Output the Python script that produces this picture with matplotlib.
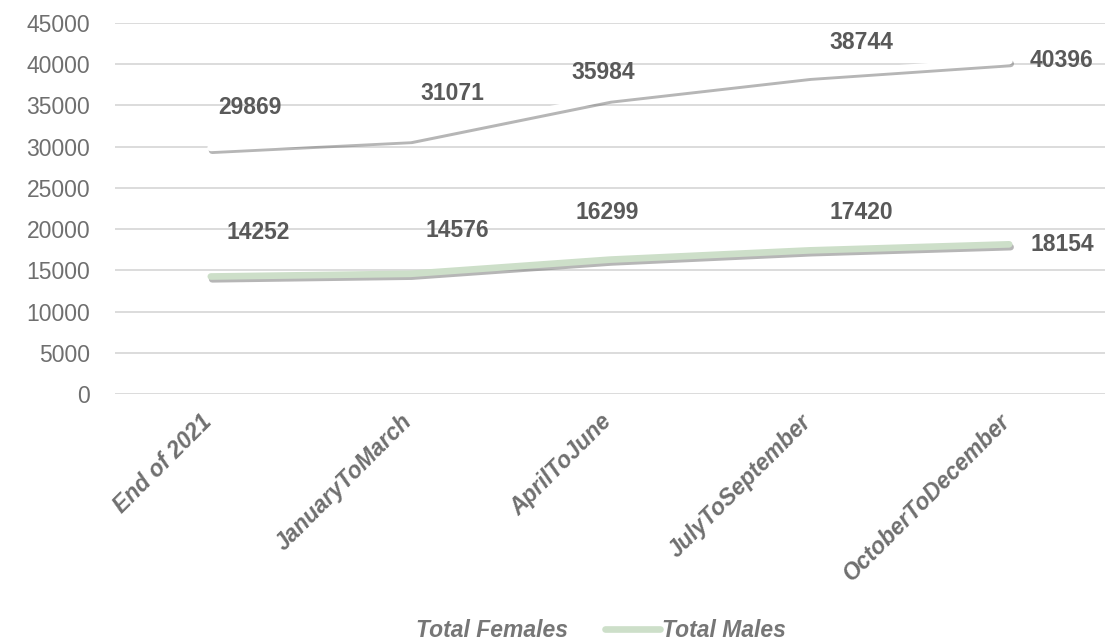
import matplotlib
matplotlib.use("Agg")
import matplotlib.pyplot as plt
import matplotlib.patheffects as pe
from matplotlib.transforms import ScaledTranslation

categories = ["End of 2021", "JanuaryToMarch", "AprilToJune", "JulyToSeptember", "OctoberToDecember"]
females = [29869, 31071, 35984, 38744, 40396]
males = [14252, 14576, 16299, 17420, 18154]
yticks = [0, 5000, 10000, 15000, 20000, 25000, 30000, 35000, 40000, 45000]

# label offsets in points (placed by hand in the original)
fem_off = [(28, 29), (30, 32), (-5, 18), (37, 23), (38, 0)]
male_off = [(34, 32), (34, 31), (-2, 34), (37, 27), (38, 0)]

plt.rcParams['font.family'] = ['Liberation Sans', 'DejaVu Sans']

fig = plt.figure(figsize=(11.18, 6.42), dpi=100)
ax = fig.add_axes([115/1118, 1-394/642, 990/1118, 371/642])

x = list(range(len(categories)))
shadow = [pe.SimpleLineShadow(offset=(1.0, -2.0), shadow_color='#7a7a7a', alpha=0.55), pe.Normal()]
ax.plot(x, females, color='white', lw=5, solid_capstyle='round', path_effects=shadow, label='Total Females', zorder=3)
ax.plot(x, males, color='#cddfc9', lw=4.8, solid_capstyle='round', path_effects=shadow, label='Total Males', zorder=3)

for i in x:
    ax.annotate(str(females[i]), (i, females[i]), xytext=fem_off[i], textcoords='offset points',
                ha='center', va='center', fontsize=16.5, fontweight='bold', color='#595959')
    ax.annotate(str(males[i]), (i, males[i]), xytext=male_off[i], textcoords='offset points',
                ha='center', va='center', fontsize=16.5, fontweight='bold', color='#595959')

ax.set_xlim(-0.48, 4.48)
ax.set_ylim(0, 45000)
ax.set_yticks(yticks)
ax.set_yticklabels([str(v) for v in yticks], fontsize=16.5, color='#6f6f6f')
ax.set_xticks(x)
ax.set_xticklabels([])
# category labels drawn as text so they can be nudged like the original
lab_tr = ax.get_xaxis_transform() + ScaledTranslation(6/100, -16/100, fig.dpi_scale_trans)
for i, cat in enumerate(categories):
    ax.text(i, 0, cat, transform=lab_tr, rotation=45, ha='right', va='top', fontsize=16.5,
            fontweight='bold', fontstyle='italic', color='#6f6f6f')
ax.tick_params(axis='y', length=0, pad=18)
ax.tick_params(axis='x', length=0)
ax.grid(axis='y', color='#d9d9d9', lw=1.3)
ax.set_axisbelow(True)
for s in ax.spines.values():
    s.set_visible(False)

leg = fig.legend(loc='center', bbox_to_anchor=(0.512, 0.018), ncol=2, frameon=False,
                 prop={'size': 16.5, 'weight': 'bold', 'style': 'italic'},
                 handlelength=2.4, handletextpad=0.1, columnspacing=1.6)
for t in leg.get_texts():
    t.set_color('#767676')
for h in leg.get_lines():
    h.set_path_effects([])

fig.savefig("out.png", dpi=100)
